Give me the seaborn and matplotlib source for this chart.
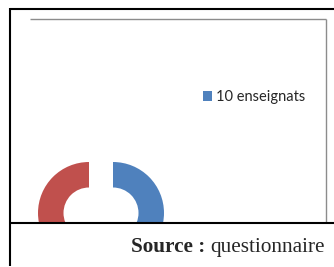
import matplotlib
matplotlib.use("Agg")
import matplotlib.pyplot as plt
import seaborn as sns
from matplotlib.lines import Line2D
from matplotlib.patches import Patch

sns.set_style("white")

# ---- data ----
categories = ["10 enseignats", ""]
values = [10, 10]
colors = ["#4F81BD", "#C0504D"]
legend_labels = ["10 enseignats"]
source_bold = "Source :"
source_text = "questionnaire"

W, H = 334, 267
fig = plt.figure(figsize=(W / 100, H / 100), dpi=100)
fig.patch.set_facecolor("white")

def fx(px):
    return px / W

def fy(py):
    return 1 - py / H

# chart axes: pixel box x 10..334, y 8..222; unit = 51 px, centre at (101, 213)
unit = 51.0
cx, cy = 101.0, 213.0
x0, x1, y0, y1 = 10.0, 334.0, 8.0, 222.5
ax = fig.add_axes([fx(x0), fy(y1), (x1 - x0) / W, (y1 - y0) / H])
wedges, _ = ax.pie(values, colors=colors, startangle=90, counterclock=False,
                   radius=1.0, explode=[12 / unit, 12 / unit],
                   wedgeprops=dict(width=25.5 / unit, edgecolor="none"))
for w in wedges:
    w.set_clip_on(True)
    w.set_clip_path(ax.patch)
ax.set_xlim((x0 - cx) / unit, (x1 - cx) / unit)
ax.set_ylim(-(y1 - cy) / unit, (cy - y0) / unit)
ax.set_aspect("auto")
ax.set_frame_on(False)
ax.set_xticks([])
ax.set_yticks([])

# legend
handles = [Patch(facecolor=colors[0], edgecolor="none", label=legend_labels[0])]
fig.legend(handles=handles, loc="center left",
           bbox_to_anchor=(fx(203), fy(97)), frameon=False,
           prop={"family": "Lato", "size": 10.5},
           handlelength=0.62, handleheight=0.62, handletextpad=0.25,
           borderpad=0, borderaxespad=0)

# frame lines
def hline(y, xa, xb, color, lw):
    fig.add_artist(Line2D([fx(xa), fx(xb)], [fy(y), fy(y)], color=color, lw=lw,
                          transform=fig.transFigure, solid_capstyle="butt"))

def vline(x, ya, yb, color, lw):
    fig.add_artist(Line2D([fx(x), fx(x)], [fy(ya), fy(yb)], color=color, lw=lw,
                          transform=fig.transFigure, solid_capstyle="butt"))

hline(8.5, 9.5, 334, "black", 1.5)
vline(10, 8, 266, "black", 1.5)
hline(19, 30, 326, "#8c8c8c", 1.0)
vline(326, 19, 222, "#8c8c8c", 1.0)
hline(222.5, 9.5, 334, "black", 1.5)

# source text
fs = 15.3
t1 = fig.text(fx(131), fy(252), source_bold + " ", fontfamily="Liberation Serif",
              fontweight="bold", fontsize=fs, va="baseline", ha="left")
fig.canvas.draw()
bb = t1.get_window_extent()
fig.text(bb.x1 / W, fy(252), source_text, fontfamily="Liberation Serif",
         fontsize=fs, va="baseline", ha="left")

fig.savefig("out.png", dpi=100, facecolor="white")
